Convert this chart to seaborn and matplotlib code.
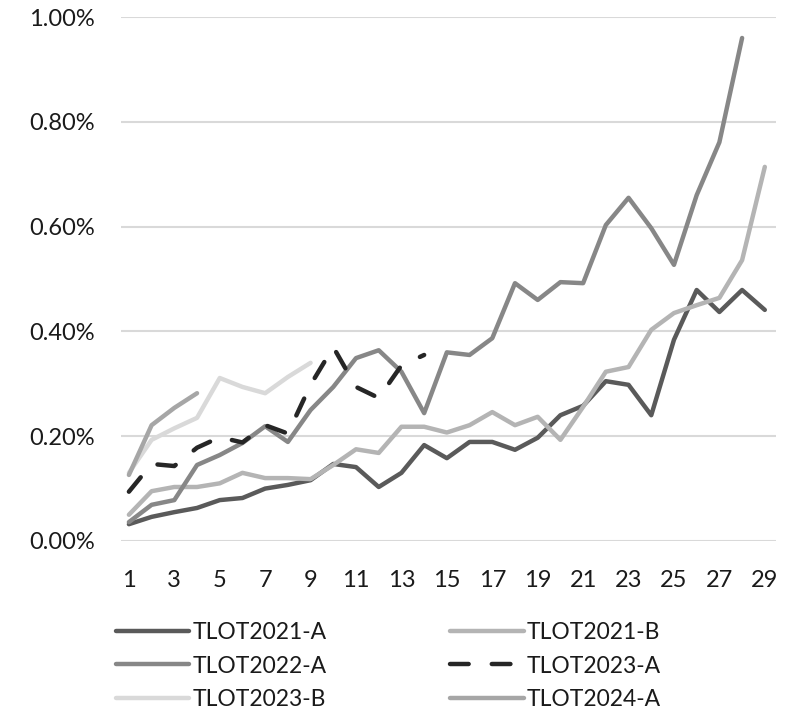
import numpy as np
import pandas as pd
import matplotlib
matplotlib.use("Agg")
import matplotlib.pyplot as plt
import seaborn as sns
from matplotlib.ticker import FuncFormatter

# values in percent
tlot2021_a = [0.032, 0.046, 0.055, 0.063, 0.078, 0.082, 0.100, 0.107, 0.116, 0.147,
              0.141, 0.103, 0.130, 0.183, 0.158, 0.189, 0.189, 0.174, 0.197, 0.240,
              0.258, 0.305, 0.298, 0.240, 0.384, 0.479, 0.437, 0.479, 0.441]
tlot2021_b = [0.050, 0.095, 0.103, 0.103, 0.110, 0.130, 0.120, 0.120, 0.118, 0.145,
              0.175, 0.168, 0.218, 0.218, 0.207, 0.221, 0.246, 0.221, 0.237, 0.193,
              0.256, 0.323, 0.332, 0.403, 0.435, 0.450, 0.464, 0.536, 0.714]
tlot2022_a = [0.036, 0.069, 0.078, 0.145, 0.164, 0.187, 0.219, 0.189, 0.250, 0.294,
              0.349, 0.364, 0.323, 0.244, 0.360, 0.355, 0.387, 0.492, 0.460, 0.494,
              0.492, 0.603, 0.655, 0.597, 0.527, 0.660, 0.761, 0.960]
tlot2023_a = [0.094, 0.147, 0.143, 0.178, 0.198, 0.188, 0.221, 0.205, 0.298, 0.370,
              0.294, 0.273, 0.335, 0.355]
tlot2023_b = [0.130, 0.193, 0.215, 0.235, 0.311, 0.294, 0.282, 0.313, 0.340]
tlot2024_a = [0.126, 0.221, 0.254, 0.282]

series = {
    "TLOT2021-A": tlot2021_a,
    "TLOT2021-B": tlot2021_b,
    "TLOT2022-A": tlot2022_a,
    "TLOT2023-A": tlot2023_a,
    "TLOT2023-B": tlot2023_b,
    "TLOT2024-A": tlot2024_a,
}
colors = {
    "TLOT2021-A": "#5a5a5a",
    "TLOT2021-B": "#b4b4b4",
    "TLOT2022-A": "#878787",
    "TLOT2023-A": "#262626",
    "TLOT2023-B": "#d9d9d9",
    "TLOT2024-A": "#a6a6a6",
}
x_ticks = list(range(1, 30, 2))
y_ticks = [0.0, 0.2, 0.4, 0.6, 0.8, 1.0]

sns.set_style("white")
plt.rcParams["font.family"] = ["Lato", "DejaVu Sans"]
plt.rcParams["lines.solid_capstyle"] = "round"
plt.rcParams["lines.dash_capstyle"] = "round"
plt.rcParams["lines.solid_joinstyle"] = "round"

fig, ax = plt.subplots(figsize=(8.01, 7.09), dpi=100)
fig.subplots_adjust(left=0.151, right=0.969, bottom=0.237, top=0.976)

for name, vals in series.items():
    df = pd.DataFrame({"period": np.arange(1, len(vals) + 1), "value": vals})
    ls = (0, (4.2, 5.2)) if name == "TLOT2023-A" else "-"
    sns.lineplot(data=df, x="period", y="value", ax=ax, color=colors[name],
                 linewidth=3.2, linestyle=ls, label=name)

ax.set_xlim(0.65, 29.5)
ax.set_ylim(0, 1.0)
ax.set_xticks(x_ticks)
ax.set_yticks(y_ticks)
ax.yaxis.set_major_formatter(FuncFormatter(lambda v, _: f"{v:.2f}%"))
ax.grid(axis="y", color="#d9d9d9", linewidth=1.5)
ax.set_axisbelow(True)
for s in ax.spines.values():
    s.set_visible(False)
ax.tick_params(axis="both", length=0, labelsize=17, colors="#1a1a1a")
ax.tick_params(axis="x", pad=21)
ax.tick_params(axis="y", pad=19)
ax.set_xlabel("")
ax.set_ylabel("")

handles, labels = ax.get_legend_handles_labels()
order = [0, 2, 4, 1, 3, 5]
ax.legend([handles[i] for i in order], [labels[i] for i in order],
          ncol=2, loc="upper left", bbox_to_anchor=(0.13, 0.139),
          bbox_transform=fig.transFigure, frameon=False, fontsize=16.5,
          handlelength=3.2, handletextpad=0.15, columnspacing=5.4,
          labelspacing=0.55, borderpad=0, labelcolor="#1a1a1a")

fig.savefig("out.png", dpi=100)
